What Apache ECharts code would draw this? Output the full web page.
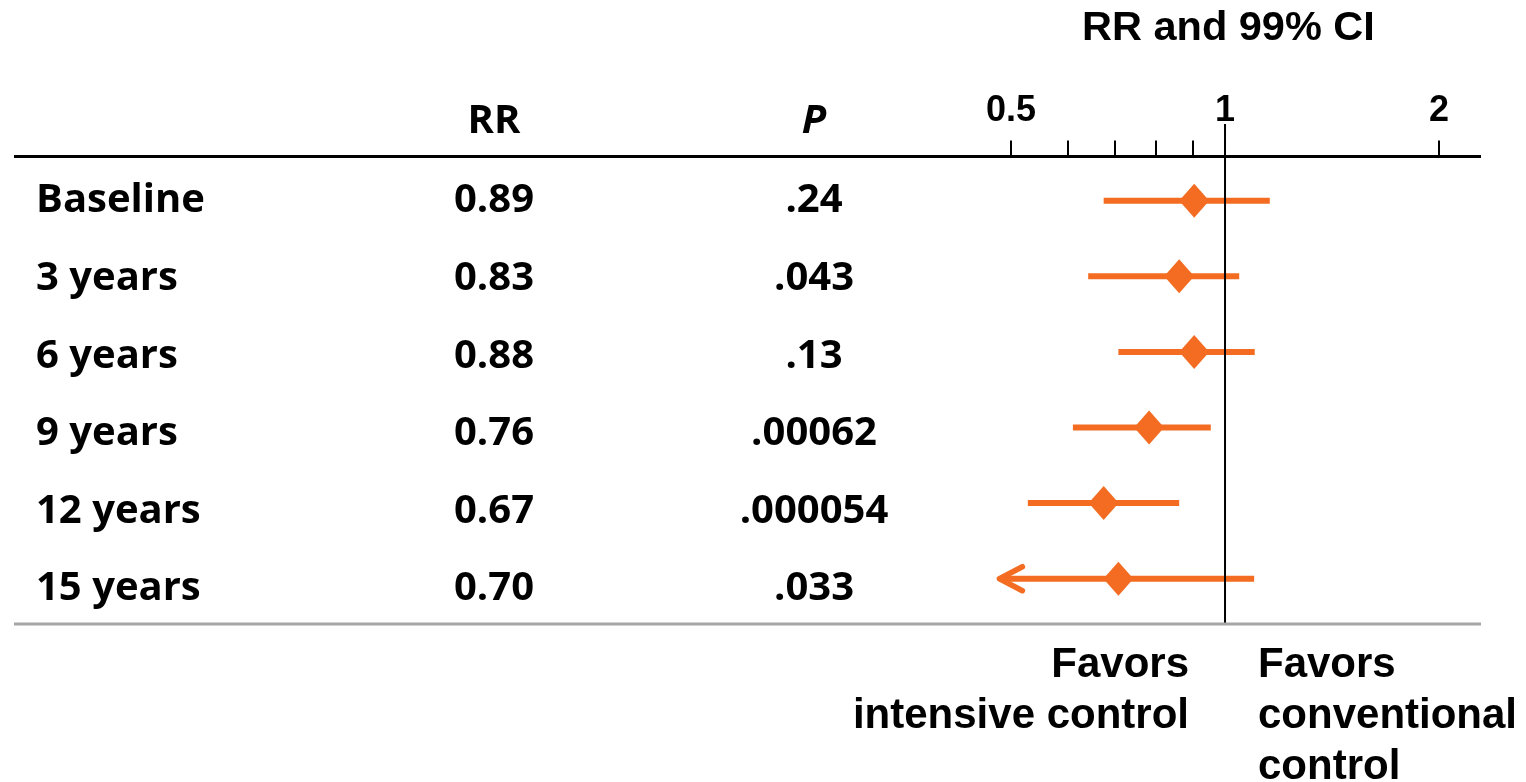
<!DOCTYPE html>
<html><head><meta charset="utf-8">
<script src="https://cdn.jsdelivr.net/npm/echarts@6/dist/echarts.min.js"></script>
<style>html,body{margin:0;padding:0;background:#fff}#c{width:1526px;height:782px}</style>
</head><body><div id="c"></div>
<script>
// ---- data ----
const rowLabels = ['Baseline', '3 years', '6 years', '9 years', '12 years', '15 years'];
const rrText = ['0.89', '0.83', '0.88', '0.76', '0.67', '0.70'];
const pText = ['.24', '.043', '.13', '.00062', '.000054', '.033'];
const columnHeaders = ['', 'RR', 'P'];
const rrPoint = [0.905, 0.862, 0.905, 0.782, 0.675, 0.708];
const ciLow = [0.675, 0.642, 0.708, 0.611, 0.528, 0.48];
const ciHigh = [1.156, 1.047, 1.101, 0.955, 0.862, 1.099];
const ciLowTruncated = [0, 0, 0, 0, 0, 1];
const axisTickValues = [0.5, 0.6, 0.7, 0.8, 0.9, 1, 2];
const axisLabelValues = [0.5, 1, 2];
const axisMin = 0.48, axisMax = 2.1;
const referenceValue = 1;
const chartTitle = 'RR and 99% CI';
const favorsLeft = 'Favors\nintensive control';
const favorsRight = 'Favors\nconventional\ncontrol';

// ---- styles ----
const ORANGE = '#F36C21';
const TABLE_FONT = { fontFamily: 'Open Sans', fontWeight: 'bold', fontSize: 40, color: '#000', textBorderWidth: 0, opacity: 1 };
const ARIAL = 'Liberation Sans';
const REF_LINE_EXTRA = 32.5; // reference line rises above the axis like a long tick

const chart = echarts.init(document.getElementById('c'), null, { renderer: 'canvas' });

const tableSeries = (col, texts, extraLabel) => ({
  type: 'scatter', xAxisIndex: 1, yAxisIndex: 1, symbolSize: 0, silent: true,
  itemStyle: { opacity: 1, color: '#000' },
  data: texts.map((t, i) => [col, i]),
  label: Object.assign({ show: true, position: 'inside', formatter: p => texts[p.dataIndex] }, TABLE_FONT, extraLabel || {})
});

chart.setOption({
  animation: false,
  backgroundColor: '#fff',
  title: {
    text: chartTitle, left: 1082, top: 8, padding: 0,
    textStyle: { fontFamily: ARIAL, fontWeight: 'bold', fontSize: 41.5, color: '#000' }
  },
  grid: [
    { left: 998.4, right: 71.9, top: 156.5, bottom: 158 },
    { left: 14, right: 552, top: 155, bottom: 158 }
  ],
  xAxis: [
    {
      type: 'log', logBase: 2, min: axisMin, max: axisMax, gridIndex: 0,
      position: 'top',
      axisLine: { show: false, onZero: false },
      splitLine: { show: false },
      minorTick: { show: false },
      axisTick: { show: true, customValues: axisTickValues, length: 16, lineStyle: { color: '#000', width: 2 } },
      axisLabel: {
        show: true, customValues: axisLabelValues, margin: 27,
        formatter: v => String(v),
        fontFamily: ARIAL, fontWeight: 'bold', fontSize: 36, color: '#000'
      }
    },
    {
      type: 'category', data: columnHeaders, gridIndex: 1, position: 'top',
      axisLine: { show: false, onZero: false }, axisTick: { show: false }, splitLine: { show: false },
      axisLabel: {
        show: true, margin: 13, interval: 0,
        formatter: v => v === 'P' ? '{it|P}' : v,
        fontFamily: 'Open Sans', fontWeight: 'bold', fontSize: 40, color: '#000',
        rich: { it: { fontFamily: 'Open Sans', fontWeight: 'bold', fontStyle: 'italic', fontSize: 40, color: '#000' } }
      }
    }
  ],
  yAxis: [
    { type: 'value', gridIndex: 0, inverse: true, min: -0.5847, max: 5.599, show: false },
    { type: 'value', gridIndex: 1, inverse: true, min: -0.593, max: 5.451, show: false }
  ],
  graphic: [
    { type: 'line', shape: { x1: 14, y1: 156.5, x2: 1481, y2: 156.5 }, style: { stroke: '#000', lineWidth: 3 }, z: 10 },
    { type: 'line', shape: { x1: 14, y1: 624, x2: 1481, y2: 624 }, style: { stroke: '#A6A6A6', lineWidth: 3 }, z: 10 },
    { type: 'text', x: 1189, y: 640, style: { text: favorsLeft, align: 'right', verticalAlign: 'top', font: 'bold 42px "Liberation Sans"', lineHeight: 51, fill: '#000' } },
    { type: 'text', x: 1258, y: 640, style: { text: favorsRight, align: 'left', verticalAlign: 'top', font: 'bold 42px "Liberation Sans"', lineHeight: 51, fill: '#000' } }
  ],
  series: [
    {
      // confidence intervals
      type: 'custom', xAxisIndex: 0, yAxisIndex: 0, silent: true, z: 2,
      data: rowLabels.map((_, i) => [ciLow[i], ciHigh[i], i, ciLowTruncated[i]]),
      encode: { x: [0, 1], y: 2 },
      renderItem: (params, api) => {
        const y = api.value(2);
        const a = api.coord([api.value(0), y]);
        const b = api.coord([api.value(1), y]);
        const children = [{
          type: 'line', shape: { x1: a[0] + (api.value(3) ? 2 : 0), y1: a[1], x2: b[0], y2: b[1] },
          style: { stroke: ORANGE, lineWidth: 6 }
        }];
        if (api.value(3)) {
          children.push({
            type: 'polyline',
            shape: { points: [[a[0] + 24, a[1] - 12], [a[0] + 1, a[1]], [a[0] + 24, a[1] + 12]] },
            style: { stroke: ORANGE, lineWidth: 5.5, fill: null, lineCap: 'round', lineJoin: 'round' }
          });
        }
        return { type: 'group', children };
      }
    },
    {
      // point estimates
      type: 'scatter', xAxisIndex: 0, yAxisIndex: 0, silent: true, z: 3,
      symbol: 'diamond', symbolSize: [30, 34],
      itemStyle: { color: ORANGE, opacity: 1 },
      data: rowLabels.map((_, i) => [rrPoint[i], i])
    },
    {
      // reference line at RR = 1
      type: 'custom', xAxisIndex: 0, yAxisIndex: 0, silent: true, z: 4,
      data: [[referenceValue, 0]],
      renderItem: (params, api) => {
        const cs = params.coordSys;
        const x = api.coord([api.value(0), 0])[0];
        return {
          type: 'line',
          shape: { x1: x, y1: cs.y - REF_LINE_EXTRA, x2: x, y2: cs.y + cs.height },
          style: { stroke: '#000', lineWidth: 2 }
        };
      }
    },
    tableSeries(0, rowLabels, { align: 'left', offset: [-138, 0] }),
    tableSeries(1, rrText),
    tableSeries(2, pText)
  ]
});
</script>
</body></html>
